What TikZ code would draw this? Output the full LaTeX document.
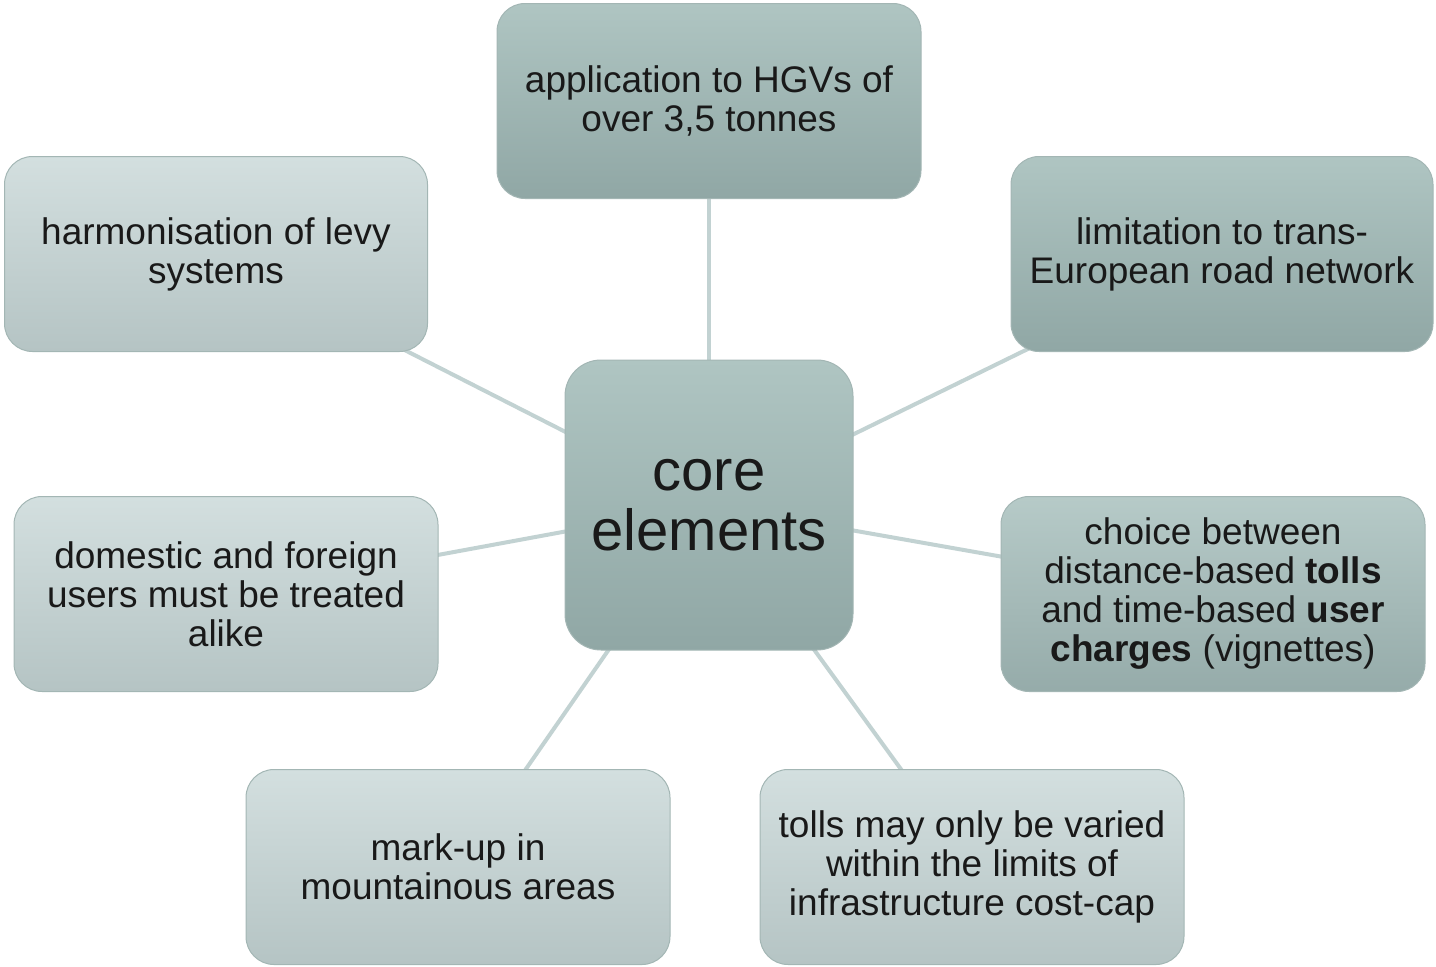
\documentclass[tikz,border=0pt]{standalone}
\usepackage{fontspec}
\setmainfont{Liberation Sans}
\usetikzlibrary{backgrounds}
\definecolor{darktop}{HTML}{AFC5C2}
\definecolor{darkbot}{HTML}{90A7A5}
\definecolor{lighttop}{HTML}{D3DFDF}
\definecolor{lightbot}{HTML}{B5C4C4}
\definecolor{linkcol}{HTML}{C2D2D2}
\definecolor{edgecol}{HTML}{A3B6B4}
\tikzset{
  box/.style={rectangle, rounded corners=28pt, minimum width=424pt, minimum height=195pt,
    align=center, inner sep=0pt, text=black!90, draw=edgecol, line width=1pt,
    font=\fontsize{37}{39}\selectfont},
  darkbox/.style={box, top color=darktop, bottom color=darkbot},
  lightbox/.style={box, top color=lighttop, bottom color=lightbot},
  link/.style={draw=linkcol, line width=4pt}
}
\begin{document}
\begin{tikzpicture}[x=1pt,y=-1pt]
\useasboundingbox (0,0) rectangle (1436,967);
\node[darkbox, minimum width=288pt, minimum height=290pt, rounded corners=36pt,
  font=\fontsize{58}{60}\selectfont] (core) at (709,505) {core\\elements};
\node[darkbox] (hgv) at (709,101) {application to HGVs of\\over 3,5 tonnes};
\node[lightbox, minimum width=423pt] (harm) at (216,254) {harmonisation of levy\\systems};
\node[darkbox, minimum width=422pt] (lim) at (1222,254) {limitation to trans-\\European road network};
\node[lightbox] (dom) at (226,594) {domestic and foreign\\users must be treated\\alike};
\node[darkbox, top color=darktop!80!lighttop, bottom color=darkbot!85!lightbot] (choice) at (1213,594)
  {choice between\\distance-based \textbf{tolls}\\and time-based \textbf{user}\\\textbf{charges} (vignettes)};
\node[lightbox] (mark) at (458,867) {mark-up in\\mountainous areas};
\node[lightbox] (tolls) at (972,867) {tolls may only be varied\\within the limits of\\infrastructure cost-cap};
\begin{scope}[on background layer]
\foreach \n in {hgv,harm,lim,dom,choice,mark,tolls}
  \draw[link] (core.center) -- (\n.center);
\end{scope}
\end{tikzpicture}
\end{document}
